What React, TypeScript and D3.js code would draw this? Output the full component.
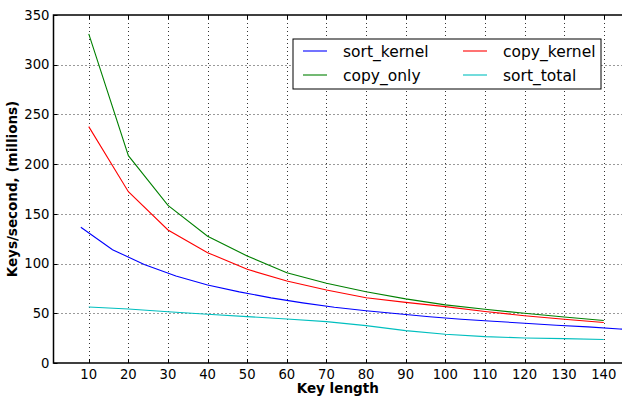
import { useRef, useEffect } from 'react';
import * as d3 from 'd3';

const WIDTH = 622;
const HEIGHT = 399;

// x ticks and y ticks
const xTicks = [10, 20, 30, 40, 50, 60, 70, 80, 90, 100, 110, 120, 130, 140];
const yTicks = [0, 50, 100, 150, 200, 250, 300, 350];

// key lengths
const keyLen = [10, 20, 30, 40, 50, 60, 70, 80, 90, 100, 110, 120, 130, 140];
const sortKeyLen = [8, 16, 24, 32, 40, 48, 56, 64, 72, 80, 88, 96, 104, 112, 120, 128, 136, 144, 152];

// keys/second (millions)
const sortKernel = [136.5, 114, 99, 87.5, 78.5, 71.5, 65.5, 60.5, 56, 52.5, 49.5, 46.5, 44, 42, 40, 38, 36.3, 34.2, 32.5];
const copyKernel = [237.7, 172.3, 133.8, 111, 94.2, 82.5, 73.4, 65.7, 61, 56.7, 51.8, 47.6, 44, 40.8];
const copyOnly = [331, 208.5, 158.5, 127.5, 107.6, 90.8, 80.2, 71.7, 64.5, 58.5, 54, 50, 46.3, 42.8];
const sortTotal = [56.3, 54.3, 51.6, 49, 46.6, 44.3, 41.6, 37.6, 32.6, 28.9, 26.5, 25.2, 24.5, 23.6];

const seriesNames = ['sort_kernel', 'copy_kernel', 'copy_only', 'sort_total'];
const seriesColors = ['#0000ff', '#ff0000', '#008000', '#00bfbf'];

const MARGIN = { left: 53.5, top: 15, right: 0, bottom: 36 };
const FONT = '"DejaVu Sans", sans-serif';

export default function App() {
  const svgRef = useRef<SVGSVGElement>(null);

  useEffect(() => {
    const svg = d3.select(svgRef.current);
    svg.selectAll('*').remove();

    const x = d3
      .scaleLinear()
      .domain([1.1, 144.6])
      .range([MARGIN.left, WIDTH - MARGIN.right]);
    const y = d3
      .scaleLinear()
      .domain([0, 350])
      .range([HEIGHT - MARGIN.bottom, MARGIN.top]);

    svg.append('rect').attr('width', WIDTH).attr('height', HEIGHT).attr('fill', '#fff');

    const [x0, x1] = x.range();
    const [yb, yt] = y.range();

    // Grid
    const grid = svg.append('g').attr('class', 'grid');
    xTicks.forEach((t) => {
      grid
        .append('line')
        .attr('x1', Math.round(x(t)) + 0.5)
        .attr('x2', Math.round(x(t)) + 0.5)
        .attr('y1', yt)
        .attr('y2', yb)
        .attr('stroke', '#000')
        .attr('stroke-width', 0.8)
        .attr('stroke-dasharray', '1,3');
    });
    yTicks.slice(1, -1).forEach((t) => {
      grid
        .append('line')
        .attr('x1', x0)
        .attr('x2', x1)
        .attr('y1', Math.round(y(t)) + 0.5)
        .attr('y2', Math.round(y(t)) + 0.5)
        .attr('stroke', '#000')
        .attr('stroke-width', 0.8)
        .attr('stroke-dasharray', '1,3');
    });

    // Lines, clipped to the axes
    svg
      .append('clipPath')
      .attr('id', 'plot-clip')
      .append('rect')
      .attr('x', x0)
      .attr('y', yt)
      .attr('width', x1 - x0)
      .attr('height', yb - yt);

    const line = d3
      .line<[number, number]>()
      .x((d) => x(d[0]))
      .y((d) => y(d[1]));

    const lines = svg.append('g').attr('clip-path', 'url(#plot-clip)');
    const data: [number, number][][] = [
      sortKeyLen.map((k, i) => [k, sortKernel[i]]),
      keyLen.map((k, i) => [k, copyKernel[i]]),
      keyLen.map((k, i) => [k, copyOnly[i]]),
      keyLen.map((k, i) => [k, sortTotal[i]]),
    ];
    data.forEach((d, i) => {
      lines
        .append('path')
        .attr('d', line(d))
        .attr('fill', 'none')
        .attr('stroke', seriesColors[i])
        .attr('stroke-width', 1.1);
    });

    // Frame
    svg
      .append('path')
      .attr('d', `M${x1},${yt}H${x0}V${yb}H${x1}`)
      .attr('fill', 'none')
      .attr('stroke', '#000')
      .attr('stroke-width', 1.5);

    // Ticks (inside) and labels
    const ticks = svg.append('g');
    xTicks.forEach((t) => {
      const px = Math.round(x(t)) + 0.5;
      ticks.append('line').attr('x1', px).attr('x2', px).attr('y1', yb).attr('y2', yb - 4).attr('stroke', '#000');
      ticks.append('line').attr('x1', px).attr('x2', px).attr('y1', yt).attr('y2', yt + 4).attr('stroke', '#000');
      svg
        .append('text')
        .attr('x', x(t))
        .attr('y', yb + 15.5)
        .attr('text-anchor', 'middle')
        .attr('font-family', FONT)
        .attr('font-size', 13.2)
        .attr('fill', '#000')
        .text(t);
    });
    yTicks.forEach((t) => {
      const py = Math.round(y(t)) + 0.5;
      ticks.append('line').attr('x1', x0).attr('x2', x0 + 4).attr('y1', py).attr('y2', py).attr('stroke', '#000');
      svg
        .append('text')
        .attr('x', x0 - 4)
        .attr('y', y(t))
        .attr('dy', '0.36em')
        .attr('text-anchor', 'end')
        .attr('font-family', FONT)
        .attr('font-size', 13.2)
        .attr('fill', '#000')
        .text(t);
    });

    // Axis labels
    svg
      .append('text')
      .attr('x', (x0 + x1) / 2)
      .attr('y', 393)
      .attr('text-anchor', 'middle')
      .attr('font-family', FONT)
      .attr('font-size', 13.5)
      .attr('font-weight', 'bold')
      .attr('fill', '#000')
      .text('Key length');
    svg
      .append('text')
      .attr('transform', `translate(17,${(yt + yb) / 2}) rotate(-90)`)
      .attr('text-anchor', 'middle')
      .attr('font-family', FONT)
      .attr('font-size', 13.5)
      .attr('font-weight', 'bold')
      .attr('fill', '#000')
      .text('Keys/second, (millions)');

    // Legend
    const legend = svg.append('g');
    legend
      .append('rect')
      .attr('x', 293)
      .attr('y', 39)
      .attr('width', 308)
      .attr('height', 50)
      .attr('fill', '#fff')
      .attr('stroke', '#000')
      .attr('stroke-width', 1);
    seriesNames.forEach((name, k) => {
      const col = k % 2;
      const row = Math.floor(k / 2);
      const lx = 303 + col * 160;
      const ly = 51 + row * 24;
      legend
        .append('line')
        .attr('x1', lx)
        .attr('x2', lx + 24)
        .attr('y1', ly)
        .attr('y2', ly)
        .attr('stroke', seriesColors[k])
        .attr('stroke-width', 1.1);
      legend
        .append('text')
        .attr('x', lx + 40)
        .attr('y', ly)
        .attr('dy', '0.36em')
        .attr('font-family', FONT)
        .attr('font-size', 15.5)
        .attr('fill', '#000')
        .text(name);
    });
  }, []);

  return (
    <svg
      ref={svgRef}
      width={WIDTH}
      height={HEIGHT}
      style={{ position: 'absolute', left: 0, top: 0 }}
    />
  );
}
